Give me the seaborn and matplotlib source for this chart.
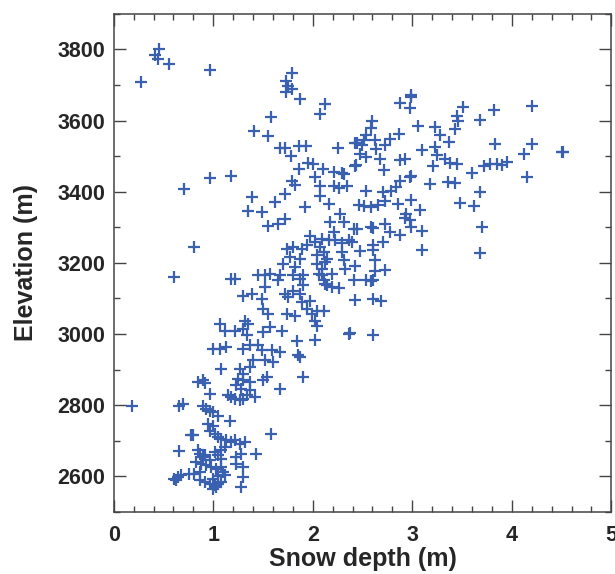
import numpy as np, pandas as pd, matplotlib
matplotlib.use('Agg')
import matplotlib.pyplot as plt
import seaborn as sns
from matplotlib.ticker import MultipleLocator

sns.set_style('ticks')
plt.rcParams['font.family'] = ['Liberation Sans', 'DejaVu Sans']

# ── data (snow depth in m, elevation in m) ──
upper_depth = [0.45,0.41,0.44,0.56,0.27,0.97,1.79,1.73,1.75,1.79,1.73,1.87,2.12,2.07,1.58,
               1.41,1.55,1.67,1.72,1.78,1.86,1.93,2.25,2.42,1.95,2.00,1.86,2.10,2.02,2.21,
               2.29,2.31,2.42,2.07,2.21,2.26,2.34,1.79,1.82,0.71,0.97,1.18,1.39,1.72,2.07]
upper_elev  = [3801,3785,3773,3759,3708,3743,3733,3710,3696,3689,3680,3661,3647,3619,3611,
               3572,3556,3522,3522,3500,3528,3528,3524,3536,3480,3478,3464,3464,3441,3455,
               3452,3450,3473,3417,3417,3410,3417,3431,3419,3408,3439,3444,3385,3394,3389]

right_depth = [2.99,2.99,2.88,2.98,3.51,3.45,3.46,3.82,4.20,3.68,
               2.60,2.58,2.53,2.51,2.44,2.49,2.63,2.64,2.73,2.78,
               2.87,3.06,3.23,3.28,3.37,3.43,2.47,2.53,2.43,2.68,
               2.72,2.88,2.93,3.10,3.23,3.25,3.21,3.33,3.38,3.45,
               3.83,4.20,4.12,4.50,4.51,3.60,3.72,3.78,3.85,3.90,
               3.95,4.15,3.18,3.36,3.43,2.88,2.98,2.99,2.53,2.71,
               2.79,2.84,3.68,3.48,3.62,3.70,3.68]
right_elev  = [3672,3666,3650,3636,3637,3614,3600,3630,3642,3602,
               3598,3578,3558,3544,3536,3530,3544,3520,3530,3549,
               3562,3586,3583,3560,3539,3577,3506,3497,3474,3492,
               3460,3488,3492,3516,3525,3502,3473,3492,3481,3478,
               3533,3534,3506,3511,3513,3452,3473,3478,3478,3476,
               3483,3441,3422,3427,3424,3431,3441,3445,3401,3399,
               3403,3413,3399,3369,3361,3300,3227]

midright_depth = [2.46,2.51,2.59,2.66,2.73,2.86,2.99,3.08,2.94,2.93,
                  2.98,2.99,3.10,2.88,2.78,2.71,2.73,3.10,2.41,2.44,
                  2.58,2.61,2.39,2.47,2.61,2.61,2.63,2.42,2.63,2.73,
                  2.41,2.53,2.58,2.61,2.42,2.61,2.69,2.61,2.37]
midright_elev  = [3364,3361,3358,3364,3373,3366,3377,3349,3338,3327,
                  3321,3302,3289,3277,3286,3258,3310,3235,3296,3296,
                  3300,3299,3258,3233,3249,3235,3207,3190,3177,3179,
                  3153,3153,3148,3153,3097,3099,3092,2998,3002]

mid_depth = [2.16,2.27,2.31,2.17,2.21,2.09,2.16,2.22,2.29,2.36,
             2.11,2.14,2.12,2.29,2.31,2.32,2.09,2.11,2.14,2.19,
             2.26,2.11,2.36,
             1.62,1.92,1.49,1.55,1.65,1.72,1.97,2.02,1.94,1.74,
             1.80,1.89,2.07,1.77,1.87,2.04,1.70,1.82,2.04,2.09,
             1.67,1.80,1.90,2.06,2.19,
             1.35,0.81,0.61,1.52]
mid_elev  = [3366,3338,3314,3314,3286,3268,3263,3263,3255,3263,
             3230,3212,3202,3230,3207,3183,3165,3151,3137,3132,
             3130,3066,2999,
             3371,3358,3343,3305,3310,3324,3275,3258,3249,3240,
             3244,3240,3244,3216,3212,3221,3197,3188,3197,3183,
             3165,3165,3165,3169,3169,
             3347,3244,3160,3132]

lowmid_depth = [1.18,1.22,1.45,1.52,1.57,1.65,1.87,1.90,2.12,1.30,
                1.39,1.49,1.50,1.55,1.72,1.75,1.80,1.87,1.89,1.97,
                1.94,1.99,2.04,1.74,1.82,2.02,2.04,1.07,1.12,1.22,
                1.32,1.35,1.30,1.34,1.50,1.57,1.69,1.84,2.02,1.00,
                1.07,1.13,1.30,1.37,1.45,1.49,1.59,1.67,1.85,1.87,
                1.40,1.37,1.08,1.27,1.30,1.54,1.50,1.90,0.90,1.30,
                1.37]
lowmid_elev  = [3155,3155,3165,3165,3169,3151,3155,3137,3141,3108,
                3113,3099,3071,3057,3113,3104,3122,3113,3090,3094,
                3071,3057,3066,3057,3052,3038,3024,3029,3010,3010,
                3038,3029,3015,2996,3005,3019,3010,2980,2982,2959,
                2959,2963,2959,2968,2968,2954,2954,2949,2940,2935,
                2926,2907,2903,2903,2888,2879,2870,2879,2870,2870,
                2865]

low_depth = [1.52,1.60,1.67,1.25,1.23,1.28,1.37,1.42,1.15,1.18,
             1.22,1.27,1.30,1.34,0.85,0.92,0.97,0.66,0.70,0.18,
             0.90,0.93,0.97,1.00,1.05,1.17,0.95,1.00,0.78,0.80,
             0.97,1.02,1.05,1.08,1.13,1.18,1.22,1.27,1.32,1.58,
             0.66,0.85,0.87,0.90,1.02,1.05,1.08,1.12,1.23,1.28,
             1.43,0.83,0.88,0.93,0.98,1.03,1.08,1.23,1.30,0.76,
             0.81,0.87,0.61,0.65,0.63,0.68,0.87,0.92,0.97,1.02,
             1.05,1.08,1.12,1.00,1.03,1.28,0.92,0.97,1.08,1.30,
             1.00,1.05,1.10]
low_elev  = [2926,2921,2846,2874,2856,2846,2842,2823,2828,2823,
             2818,2814,2818,2828,2865,2862,2832,2799,2804,2797,
             2799,2790,2785,2781,2771,2757,2748,2743,2715,2715,
             2729,2720,2710,2706,2701,2696,2701,2692,2696,2718,
             2671,2673,2664,2654,2668,2659,2673,2682,2654,2664,
             2664,2640,2636,2631,2626,2622,2626,2636,2626,2608,
             2608,2612,2594,2598,2589,2603,2589,2584,2579,2575,
             2579,2584,2603,2565,2570,2570,2659,2645,2650,2598,
             2594,2600,2612]

depth = upper_depth + right_depth + midright_depth + mid_depth + lowmid_depth + low_depth
elev = upper_elev + right_elev + midright_elev + mid_elev + lowmid_elev + low_elev
df = pd.DataFrame({'depth': depth, 'elev': elev})

# ── plot ──
fig = plt.figure(figsize=(6.15, 5.74), dpi=100)
ax = fig.add_axes([0.185, 0.108, 0.809, 0.868])
sns.scatterplot(data=df, x='depth', y='elev', marker='+', s=70,
                color='#3a60b0', linewidth=1.6, ax=ax, legend=False)

ax.set_xlim(0, 5); ax.set_ylim(2500, 3900)
ax.xaxis.set_major_locator(MultipleLocator(1)); ax.xaxis.set_minor_locator(MultipleLocator(0.2))
ax.yaxis.set_minor_locator(MultipleLocator(100))
ax.set_yticks([2600, 2800, 3000, 3200, 3400, 3600, 3800])
ax.tick_params(which='both', direction='in', top=True, right=True, color='#444444', width=1)
ax.tick_params(which='major', length=8.5, labelsize=15.5)
ax.tick_params(axis='x', which='major', pad=9)
ax.tick_params(axis='y', which='major', pad=6)
ax.tick_params(which='minor', length=4.3)
for lab in ax.get_xticklabels() + ax.get_yticklabels():
    lab.set_fontweight('bold')
for s in ax.spines.values():
    s.set_color('#444444'); s.set_linewidth(1.1)

ax.set_xlabel('Snow depth (m)', fontsize=18, fontweight='bold', labelpad=1)
ax.set_ylabel('Elevation (m)', fontsize=18, fontweight='bold', labelpad=14)

plt.savefig('out.png', dpi=100)
plt.close()
